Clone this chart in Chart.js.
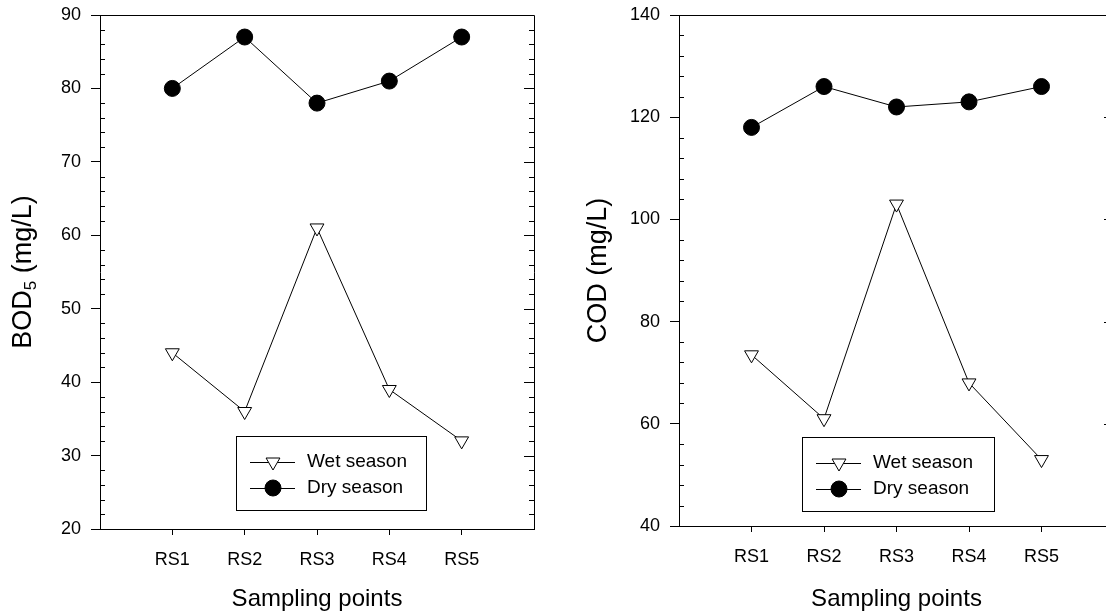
<!DOCTYPE html>
<html>
<head>
<meta charset="utf-8">
<script src="https://cdn.jsdelivr.net/npm/chart.js@4/dist/chart.umd.min.js"></script>
<style>
  html, body { margin: 0; padding: 0; background: #fff; overflow: hidden; }
  canvas { position: absolute; top: 0; }
  #bod { left: 0; }
  #cod { left: 553px; }
</style>
</head>
<body>
<canvas id="bod" width="553" height="615"></canvas>
<canvas id="cod" width="575" height="615"></canvas>
<script>
// sampling points
var categories = ['RS1', 'RS2', 'RS3', 'RS4', 'RS5'];
var seriesNames = ['Wet season', 'Dry season'];

// BOD5 (mg/L)
var bodWet = [44, 36, 61, 39, 32];
var bodDry = [80, 87, 78, 81, 87];

// COD (mg/L)
var codWet = [73.5, 61, 103, 68, 53];
var codDry = [118, 126, 122, 123, 126];

var bodTicks = { min: 20, max: 90, step: 10, minor: 2 };
var codTicks = { min: 40, max: 140, step: 20, minor: 4 };

Chart.defaults.font.family = '"Liberation Sans", Arial, sans-serif';
Chart.defaults.color = '#000';

function toPoints(values) {
    return values.map(function (v, i) { return { x: i + 1, y: v }; });
}

// top/right frame + inside minor ticks
function framePlugin(minorStep) {
    return {
        id: 'frame',
        afterDraw: function (chart) {
            var ctx = chart.ctx;
            var a = chart.chartArea;
            var y = chart.scales.y;
            ctx.save();
            ctx.strokeStyle = '#000';
            ctx.lineWidth = 1;
            ctx.beginPath();
            ctx.moveTo(a.left, a.top + 0.5);
            ctx.lineTo(a.right + 0.5, a.top + 0.5);
            ctx.lineTo(a.right + 0.5, a.bottom);
            for (var v = y.min; v <= y.max + 1e-9; v += minorStep) {
                var py = Math.round(y.getPixelForValue(v)) + 0.5;
                var major = Math.abs((v - y.min) % y.options.ticks.stepSize) < 1e-9;
                if (!major) {
                    ctx.moveTo(a.left, py);
                    ctx.lineTo(a.left + 5, py);
                }
                ctx.moveTo(a.right, py);
                ctx.lineTo(a.right - (major ? 10 : 5), py);
            }
            ctx.stroke();
            ctx.restore();
        }
    };
}

// rotated y title with optional subscript
function yTitlePlugin(parts, baseX) {
    return {
        id: 'ytitle',
        afterDraw: function (chart) {
            var ctx = chart.ctx;
            var a = chart.chartArea;
            var big = '27px "Liberation Sans", Arial, sans-serif';
            var small = '17px "Liberation Sans", Arial, sans-serif';
            ctx.save();
            var total = 0;
            parts.forEach(function (p) {
                ctx.font = p.sub ? small : big;
                p.w = ctx.measureText(p.t).width;
                total += p.w;
            });
            ctx.translate(baseX, (a.top + a.bottom) / 2);
            ctx.rotate(-Math.PI / 2);
            ctx.fillStyle = '#000';
            ctx.textBaseline = 'alphabetic';
            ctx.textAlign = 'left';
            var x = -total / 2;
            parts.forEach(function (p) {
                ctx.font = p.sub ? small : big;
                ctx.fillText(p.t, x, p.sub ? 5 : 0);
                x += p.w;
            });
            ctx.restore();
        }
    };
}

function drawMarker(ctx, ds, x, y) {
    ctx.beginPath();
    if (ds.pointStyle === 'circle') {
        ctx.arc(x, y, ds.pointRadius, 0, Math.PI * 2);
    } else {
        var r = ds.pointRadius;
        for (var k = 0; k < 3; k++) {
            var ang = Math.PI + k * 2 * Math.PI / 3;
            var px = x + Math.sin(ang) * r, py = y - Math.cos(ang) * r;
            if (k === 0) ctx.moveTo(px, py); else ctx.lineTo(px, py);
        }
        ctx.closePath();
    }
    ctx.fillStyle = ds.pointBackgroundColor;
    ctx.fill();
    ctx.strokeStyle = ds.pointBorderColor;
    ctx.lineWidth = 1;
    ctx.stroke();
}

// boxed legend with line + marker samples
function legendPlugin(box) {
    return {
        id: 'boxlegend',
        afterDraw: function (chart) {
            var ctx = chart.ctx;
            ctx.save();
            ctx.fillStyle = '#fff';
            ctx.fillRect(box.x, box.y, box.w, box.h);
            ctx.strokeStyle = '#000';
            ctx.lineWidth = 1;
            ctx.strokeRect(box.x + 0.5, box.y + 0.5, box.w, box.h);
            ctx.font = '19px "Liberation Sans", Arial, sans-serif';
            ctx.textBaseline = 'middle';
            ctx.textAlign = 'left';
            chart.data.datasets.forEach(function (ds, i) {
                var cy = box.y + 26 + i * 26;
                ctx.beginPath();
                ctx.strokeStyle = '#000';
                ctx.moveTo(box.x + 14, cy + 0.5);
                ctx.lineTo(box.x + 59, cy + 0.5);
                ctx.stroke();
                drawMarker(ctx, ds, box.x + 37, cy);
                ctx.fillStyle = '#000';
                ctx.fillText(ds.label, box.x + 71, cy);
            });
            ctx.restore();
        }
    };
}

function makeChart(id, wet, dry, t, cfg) {
    return new Chart(document.getElementById(id), {
        type: 'line',
        data: {
            datasets: [{
                label: seriesNames[0],
                data: toPoints(wet),
                borderColor: '#000',
                borderWidth: 1,
                pointStyle: 'triangle',
                rotation: 180,
                pointRadius: 8,
                pointBackgroundColor: '#fff',
                pointBorderColor: '#000',
                pointBorderWidth: 1,
                tension: 0
            }, {
                label: seriesNames[1],
                data: toPoints(dry),
                borderColor: '#000',
                borderWidth: 1,
                pointStyle: 'circle',
                pointRadius: 8,
                pointBackgroundColor: '#000',
                pointBorderColor: '#000',
                pointBorderWidth: 1,
                tension: 0
            }]
        },
        options: {
            responsive: false,
            animation: false,
            devicePixelRatio: 1,
            layout: { padding: { top: 15, right: cfg.padRight, left: 0, bottom: 0 } },
            plugins: { legend: { display: false }, tooltip: { enabled: false } },
            scales: {
                x: {
                    type: 'linear',
                    min: 0,
                    max: 6,
                    afterBuildTicks: function (scale) {
                        scale.ticks = categories.map(function (c, i) { return { value: i + 1 }; });
                    },
                    afterFit: function (scale) {
                        scale.height = cfg.xHeight;
                        scale.paddingLeft = 0;
                        scale.paddingRight = 0;
                    },
                    ticks: {
                        font: { size: 18 },
                        padding: 14,
                        maxRotation: 0,
                        autoSkip: false,
                        callback: function (v) { return categories[v - 1]; }
                    },
                    grid: { drawOnChartArea: false, drawTicks: true, tickLength: 6, color: '#000' },
                    border: { display: true, color: '#000', width: 1 },
                    title: { display: true, text: 'Sampling points', font: { size: 24 }, padding: { top: 0, bottom: 1 } }
                },
                y: {
                    min: t.min,
                    max: t.max,
                    afterFit: function (scale) {
                        scale.width = cfg.yWidth;
                        scale.paddingTop = 0;
                        scale.paddingBottom = 0;
                    },
                    ticks: { stepSize: t.step, font: { size: 18 }, padding: 10 },
                    grid: { drawOnChartArea: false, drawTicks: true, tickLength: 9, color: '#000' },
                    border: { display: true, color: '#000', width: 1 }
                }
            }
        },
        plugins: [framePlugin(t.minor), yTitlePlugin(cfg.title, cfg.titleX), legendPlugin(cfg.legend)]
    });
}

makeChart('bod', bodWet, bodDry, bodTicks, {
    padRight: 19, xHeight: 86, yWidth: 100,
    title: [{ t: 'BOD' }, { t: '5', sub: true }, { t: ' (mg/L)' }],
    titleX: 31,
    legend: { x: 236, y: 436, w: 190, h: 74 }
});

makeChart('cod', codWet, codDry, codTicks, {
    padRight: 14, xHeight: 89, yWidth: 126,
    title: [{ t: 'COD (mg/L)' }],
    titleX: 53,
    legend: { x: 249, y: 437, w: 192, h: 74 }
});
</script>
</body>
</html>
